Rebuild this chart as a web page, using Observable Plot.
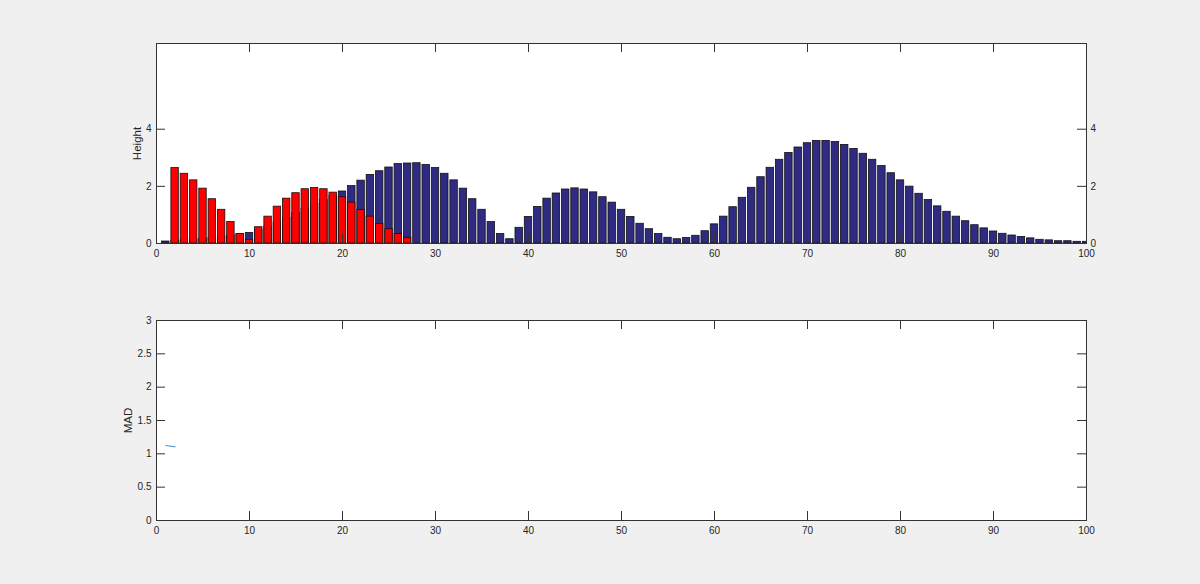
<!DOCTYPE html>
<html><head><meta charset="utf-8">
<script src="https://cdn.jsdelivr.net/npm/d3@7"></script>
<script src="https://cdn.jsdelivr.net/npm/@observablehq/plot@0.6"></script>
<style>
html,body{margin:0;padding:0;background:#f0f0f0;width:1200px;height:584px;overflow:hidden;}
svg{display:block;}
</style></head><body><div id="c"></div>
<script>
// ---- data ----
const bluePositions = d3.range(1, 101);
const blueHeights = [
  0.07, 0.09, 0.11, 0.14, 0.17, 0.20, 0.24, 0.28, 0.32, 0.37,
  0.47, 0.60, 0.74, 0.90, 1.06, 1.22, 1.38, 1.53, 1.67, 1.82,
  2.01, 2.20, 2.40, 2.53, 2.66, 2.78, 2.80, 2.81, 2.75, 2.64,
  2.44, 2.21, 1.92, 1.55, 1.18, 0.75, 0.33, 0.15, 0.55, 0.93,
  1.28, 1.57, 1.75, 1.89, 1.93, 1.89, 1.79, 1.62, 1.43, 1.18,
  0.93, 0.69, 0.50, 0.33, 0.20, 0.15, 0.19, 0.27, 0.43, 0.67,
  0.94, 1.27, 1.60, 1.95, 2.32, 2.65, 2.93, 3.17, 3.36, 3.51,
  3.59, 3.59, 3.55, 3.45, 3.31, 3.14, 2.93, 2.71, 2.46, 2.21,
  1.99, 1.74, 1.52, 1.30, 1.11, 0.94, 0.78, 0.64, 0.53, 0.42,
  0.34, 0.28, 0.23, 0.18, 0.13, 0.11, 0.08, 0.08, 0.06, 0.06
];
const redPositions = d3.range(2, 28);
const redHeights = [
  2.64, 2.44, 2.21, 1.92, 1.55, 1.18, 0.75, 0.33, 0.13, 0.57,
  0.94, 1.29, 1.57, 1.76, 1.90, 1.94, 1.90, 1.78, 1.62, 1.43,
  1.18, 0.94, 0.69, 0.50, 0.33, 0.20
];
const madX = [1, 2];
const madY = [1.125, 1.105];
const xTicks = [0, 10, 20, 30, 40, 50, 60, 70, 80, 90, 100];
const topYTicks = [0, 2, 4];
const bottomYTicks = [0, 0.5, 1, 1.5, 2, 2.5, 3];

// ---- build ----
const blueData = bluePositions.map((x, i) => ({x, h: blueHeights[i]}));
const redData = redPositions.map((x, i) => ({x, h: redHeights[i]}));
const madData = madX.map((x, i) => ({x, y: madY[i]}));

const FW = 930, FH = 200, TL = 9;
const axisColor = "#333333";
const font = "'Liberation Sans', Arial, Helvetica, sans-serif";
const fmt = d => String(d);

function insideTicks(yt) {
  return [
    Plot.tickX(xTicks, {x: d => d, insetTop: FH - TL, stroke: axisColor}),
    Plot.tickX(xTicks, {x: d => d, insetBottom: FH - TL, stroke: axisColor}),
    Plot.tickY(yt, {y: d => d, insetRight: FW - TL, stroke: axisColor}),
    Plot.tickY(yt, {y: d => d, insetLeft: FW - TL, stroke: axisColor})
  ];
}
const bar = (data, fill) => Plot.rectY(data, {
  x1: d => d.x - 0.4, x2: d => d.x + 0.4, y1: 0, y2: "h",
  fill, stroke: "#111", strokeWidth: 0.8, clip: true
});
const yLabel = (txt, dx) => Plot.text([txt], {
  text: d => d, frameAnchor: "left", textAnchor: "middle", lineAnchor: "middle",
  rotate: -90, dx, fontSize: 11.5, fill: "#262626"
});

const topChart = Plot.plot({
  width: 1200, height: 270,
  marginLeft: 156, marginRight: 114, marginTop: 43, marginBottom: 27,
  x: {domain: [0, 100]}, y: {domain: [0, 7]},
  style: {background: "transparent", fontSize: "10px", color: "#262626", fontFamily: font},
  marks: [
    Plot.frame({fill: "white"}),
    bar(blueData, "#302b82"),
    bar(redData, "#ff0000"),
    ...insideTicks(topYTicks),
    Plot.frame({stroke: axisColor, strokeWidth: 1}),
    Plot.axisX({ticks: xTicks, tickSize: 0, tickPadding: 6, tickFormat: fmt, label: null}),
    Plot.axisY({ticks: topYTicks, anchor: "left", tickSize: 0, tickPadding: 5, tickFormat: fmt, label: null}),
    Plot.axisY({ticks: topYTicks, anchor: "right", tickSize: 0, tickPadding: 4, tickFormat: fmt, label: null}),
    yLabel("Height", -19)
  ]
});

const bottomChart = Plot.plot({
  width: 1200, height: 314,
  marginLeft: 156, marginRight: 114, marginTop: 50, marginBottom: 64,
  x: {domain: [0, 100]}, y: {domain: [0, 3]},
  style: {background: "transparent", fontSize: "10px", color: "#262626", fontFamily: font},
  marks: [
    Plot.frame({fill: "white"}),
    Plot.line(madData, {x: "x", y: "y", stroke: "#3d8fd6", strokeWidth: 1}),
    ...insideTicks(bottomYTicks),
    Plot.frame({stroke: axisColor, strokeWidth: 1}),
    Plot.axisX({ticks: xTicks, tickSize: 0, tickPadding: 6, tickFormat: fmt, label: null}),
    Plot.axisY({ticks: bottomYTicks, anchor: "left", tickSize: 0, tickPadding: 5, tickFormat: fmt, label: null}),
    yLabel("MAD", -28)
  ]
});

const c = document.getElementById("c");
c.appendChild(topChart);
c.appendChild(bottomChart);
</script></body></html>
